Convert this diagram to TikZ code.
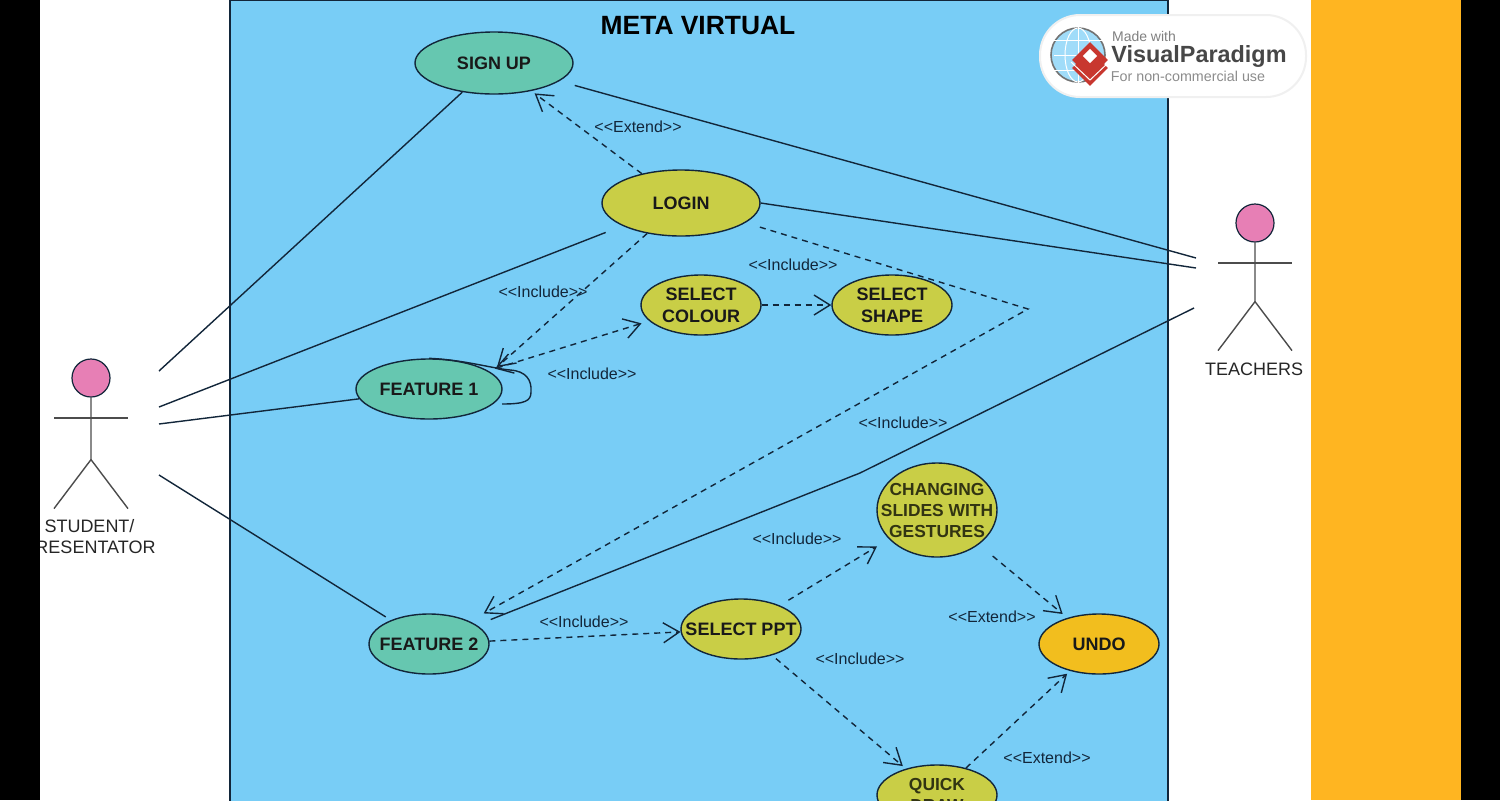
\documentclass[tikz,border=0pt]{standalone}
\usepackage{fontspec}
\setmainfont{Liberation Sans}
\usetikzlibrary{arrows.meta,shapes.geometric}
\definecolor{sysblue}{HTML}{78CDF6}
\definecolor{tealcase}{HTML}{66C7B0}
\definecolor{yellowcase}{HTML}{C9CE46}
\definecolor{undocase}{HTML}{F2BE1E}
\definecolor{sideband}{HTML}{FFB521}
\definecolor{headpink}{HTML}{E77FB5}
\definecolor{inkdark}{HTML}{12263A}
\definecolor{markred}{HTML}{C8372F}
\newcommand{\inctext}{<{}<Include>{}>}
\newcommand{\exttext}{<{}<Extend>{}>}
\tikzset{
  usecase/.style={ellipse,draw=inkdark,line width=0.7pt,inner xsep=-8pt,inner ysep=-2pt,minimum width=60pt,minimum height=30pt,
    align=center,text=black!90,font=\bfseries\fontsize{9}{11}\selectfont},
  teal/.style={usecase,fill=tealcase},
  yellow/.style={usecase,fill=yellowcase},
  link/.style={draw=inkdark,line width=0.7pt},
  actorline/.style={draw=black!70,line width=0.7pt},
  dep/.style={link,dash pattern=on 3pt off 2.5pt,-{Straight Barb[length=8pt,width=10pt]}},
  stereo/.style={text=inkdark,font=\fontsize{8}{10}\selectfont},
  actorname/.style={text=black!85,align=center,font=\fontsize{9}{10.5}\selectfont}
}
\begin{document}
\begin{tikzpicture}[x=0.5pt,y=-0.5pt]
  \useasboundingbox (0,0) rectangle (1500,800);
  \clip (0,0) rectangle (1500,800);
  \fill[white] (0,0) rectangle (1500,800);
  \fill[sideband] (1311,0) rectangle (1461,800);
  \draw[fill=sysblue,draw=inkdark,line width=0.7pt] (230,0) rectangle (1168,810);
  \node[font=\bfseries\fontsize{13.2}{15}\selectfont] (title) at (698,26) {META VIRTUAL};

  % actors
  \foreach \name/\x/\y/\h in {student/91/378/62,teacher/1255/223/59}
  {\node[circle,draw=inkdark,fill=headpink,line width=0.6pt,minimum size=19pt,inner sep=0pt] (\name) at (\x,\y) {};
   \draw[actorline] (\name.south) -- ++(0,\h) coordinate (\name hip) -- ++(-37,49);
   \draw[actorline] (\name hip) -- ++(37,49);
   \draw[actorline] (\x-37,\y+40) -- (\x+37,\y+40);}
  \node[actorname] (studentname) at (89.5,537) {STUDENT/\\PRESENTATOR};
  \node[actorname] (teachername) at (1254,369) {TEACHERS};

  \coordinate (stu1) at (159,371);
  \coordinate (stu2) at (159,407);
  \coordinate (stu3) at (159,424);
  \coordinate (stu4) at (159,475);
  \coordinate (tea1) at (1196,258);
  \coordinate (tea2) at (1196,268);
  \coordinate (tea3) at (1194,308);
  \coordinate (loginbend) at (1028,309);
  \coordinate (teabend) at (860,473);

  % use cases
  \node[teal,minimum width=79pt,minimum height=31pt] (signup) at (494,63) {SIGN UP};
  \node[yellow,minimum width=79pt,minimum height=33pt] (login) at (681,203) {LOGIN};
  \node[teal,minimum width=73pt] (feature1) at (429,389) {FEATURE 1};
  \node[yellow] (colour) at (701,305) {SELECT\\COLOUR};
  \node[yellow] (shape) at (892,305) {SELECT\\SHAPE};
  \node[teal] (feature2) at (429,644) {FEATURE 2};
  \node[yellow] (ppt) at (741,629) {SELECT PPT};
  \node[yellow,minimum height=47pt,text=black!75!yellowcase,font=\bfseries\fontsize{8.7}{10.5}\selectfont] (slides) at (937,510) {CHANGING\\SLIDES WITH\\GESTURES};
  \node[usecase,fill=undocase] (undo) at (1099,644) {UNDO};
  \node[yellow,text=black!75!yellowcase,font=\bfseries\fontsize{8.7}{10.5}\selectfont] (quick) at (937,795) {QUICK\\DRAW};

  % plain links
  \draw[link] (signup) -- (stu1);
  \draw[link,shorten <=8pt] (signup) -- (tea1);
  \draw[link,shorten <=9pt] (login) -- (stu2);
  \draw[link] (login.east) -- (tea2);
  \draw[link] (feature1.188) -- (stu3);
  \draw[link,shorten <=3pt] (feature2) -- (stu4);
  \draw[link,shorten >=7.5pt] (tea3) -- (teabend) -- (feature2);
  \draw[link] (feature1.north) .. controls (465,360) and (490,368) .. (510,370) .. controls (526,371) and (532,380) .. (531,392) .. controls (531,401) and (525,404) .. (502,404);

  % dashed links
  \draw[dep,shorten >=2pt] (login) -- (signup);
  \draw[dep,shorten >=4pt] (login.222) -- (feature1.15);
  \draw[dep,{Straight Barb[length=8pt,width=10pt]}-{Straight Barb[length=8pt,width=10pt]},shorten <=3.5pt,shorten >=4pt] (feature1) -- (colour);
  \draw[dep] (colour) -- (shape);
  \draw[dep,shorten <=7.5pt,shorten >=8pt] (login.-17) -- (loginbend) -- (feature2);
  \draw[dep] (feature2) -- (ppt);
  \draw[dep,shorten <=5pt,shorten >=7pt] (ppt) -- (slides);
  \draw[dep,shorten <=2.5pt,shorten >=2pt] (ppt) -- (quick);
  \draw[dep,shorten <=9pt,shorten >=3pt] (slides) -- (undo);
  \draw[dep,shorten >=2pt] (quick) -- (undo);

  % stereotypes
  \node[stereo] (ext1) at (638,127) {\exttext};
  \node[stereo] (inc1) at (543,292) {\inctext};
  \node[stereo] (inc2) at (793,265) {\inctext};
  \node[stereo] (inc3) at (592,374) {\inctext};
  \node[stereo] (inc4) at (903,423) {\inctext};
  \node[stereo] (inc5) at (797,539) {\inctext};
  \node[stereo] (inc6) at (584,622) {\inctext};
  \node[stereo] (inc7) at (860,659) {\inctext};
  \node[stereo] (ext2) at (992,617) {\exttext};
  \node[stereo] (ext3) at (1047,758) {\exttext};

  % logo
  \node[rectangle,fill=white,draw=black!6,line width=1pt,rounded corners=20pt,minimum width=133pt,minimum height=41pt] (logo) at (1173,56) {};
  \node[circle,draw=black!55,fill=sysblue!70,line width=0.8pt,minimum size=27pt,inner sep=0pt] (globe) at (1078,55) {};
  \foreach \y in {40,55,70}
  {\draw[white,line width=0.5pt] (1054,\y) -- (1102,\y);}
  \draw[white,line width=0.5pt] (globe.north) -- (globe.south);
  \draw[white,line width=0.5pt] (1078,55) ellipse (13 and 27);
  \node[diamond,fill=markred,minimum size=18pt,inner sep=0pt] (marklow) at (1090,68) {};
  \draw[white,line width=0.5pt] (1071,62) -- (1090,80) -- (1109,62);
  \node[diamond,fill=markred,minimum size=18pt,inner sep=0pt] (mark) at (1090,60) {};
  \node[rectangle,fill=white,rotate=45,minimum size=5pt,inner sep=0pt] (markhole) at (1090,56) {};
  \node[text=black!50,font=\fontsize{7}{8}\selectfont] (madewith) at (1144,36) {Made with};
  \node[text=black!72,font=\bfseries\fontsize{11.7}{13}\selectfont] (vpname) at (1199,56) {VisualParadigm};
  \node[text=black!45,font=\fontsize{7.15}{8}\selectfont] (vpnote) at (1188,76) {For non-commercial use};

  \fill[black] (0,0) rectangle (40,800);
  \fill[black] (1461,0) rectangle (1500,800);
\end{tikzpicture}
\end{document}
